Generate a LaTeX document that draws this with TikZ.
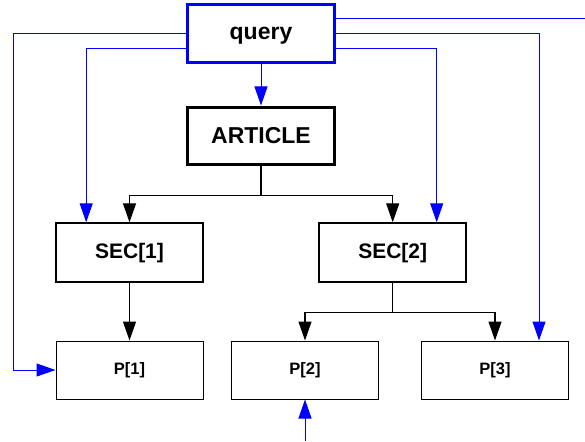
\documentclass[tikz,border=0pt]{standalone}
\usepackage{fontspec}
\setmainfont{Liberation Sans}
\usepackage{tikz}
\usetikzlibrary{arrows.meta, positioning, calc}
\definecolor{QueryBlue}{RGB}{0,0,255}
\tikzset{
  % Box styles
  querybox/.style={rectangle, draw=QueryBlue, line width=3.5pt, fill=white, minimum width=147pt, minimum height=58pt, inner sep=0pt, text depth=0pt, font=\fontsize{23}{27}\selectfont\bfseries},
  rootbox/.style={rectangle, draw=black, line width=3pt, fill=white, minimum width=147pt, minimum height=57pt, inner sep=0pt, font=\fontsize{23}{27}\selectfont\bfseries},
  secbox/.style={rectangle, draw=black, line width=2pt, fill=white, minimum width=147pt, minimum height=59pt, inner sep=0pt, font=\fontsize{21}{25}\selectfont\bfseries},
  parbox/.style={rectangle, draw=black, line width=1pt, fill=white, minimum width=147pt, minimum height=58pt, inner sep=0pt, font=\fontsize{16.5}{20}\selectfont\bfseries},
  % Arrow styles
  treearrow/.style={-{Triangle[length=19pt, width=13pt]}, line width=1.3pt, black},
  bluearrow/.style={-{Triangle[length=19pt, width=13pt]}, line width=1pt, QueryBlue},
  blueline/.style={line width=1pt, QueryBlue}
}
\begin{document}
\begin{tikzpicture}[x=1pt, y=-1pt]
  \useasboundingbox (0,0) rectangle (585,441);

  \node[querybox] (query) at (261,33.3) {query};
  \node[rootbox] (article) at (261,135.5) {ARTICLE};
  \node[secbox] (sec1) at (129.5,252.8) {SEC[1]};
  \node[secbox] (sec2) at (392.7,252.8) {SEC[2]};
  \node[parbox] (p1) at (129.5,370) {P[1]};
  \node[parbox] (p2) at (305,370) {P[2]};
  \node[parbox] (p3) at (495,370) {P[3]};

  \coordinate (exit) at (585,19);
  \coordinate (entry) at (305,441);

  % document tree
  \draw[treearrow] (article.south) -- ++(0,30) -| (sec1.north);
  \draw[treearrow] (article.south) -- ++(0,30) -| (sec2.north);
  \draw[treearrow] (sec1.south) -- (p1.north);
  \draw[treearrow] (sec2.south) -- ++(0,29.4) -| (p2.north);
  \draw[treearrow] (sec2.south) -- ++(0,29.4) -| (p3.north);

  % query links
  \draw[bluearrow] (query.south) -- (article.north);
  \draw[blueline] (query.east |- exit) -- (exit);
  \draw[bluearrow] (query.west) -- (13,33.3) |- (p1.west);
  \draw[bluearrow] (query.east) -| ([xshift=44pt]p3.north);
  \draw[bluearrow] ([yshift=-15.7pt]query.west) -| ([xshift=-43.3pt]sec1.north);
  \draw[bluearrow] ([yshift=-15.7pt]query.east) -| ([xshift=44pt]sec2.north);
  \draw[bluearrow] (entry) -- (p2.south);
\end{tikzpicture}
\end{document}
